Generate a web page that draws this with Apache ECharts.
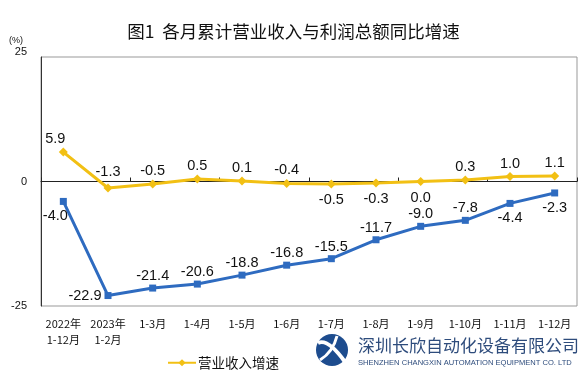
<!DOCTYPE html>
<html><head><meta charset="utf-8">
<script src="https://cdn.jsdelivr.net/npm/echarts@6/dist/echarts.min.js"></script>
<style>html,body{margin:0;padding:0;background:#fff}#c{width:587px;height:374px}</style>
</head><body><div id="c"></div>
<script>
var categories = ['2022年\n1-12月','2023年\n1-2月','1-3月','1-4月','1-5月','1-6月','1-7月','1-8月','1-9月','1-10月','1-11月','1-12月'];
var revenueGrowth = [5.9, -1.3, -0.5, 0.5, 0.1, -0.4, -0.5, -0.3, 0.0, 0.3, 1.0, 1.1];
var profitGrowth = [-4.0, -22.9, -21.4, -20.6, -18.8, -16.8, -15.5, -11.7, -9.0, -7.8, -4.4, -2.3];
var yTicks = [-25, 0, 25];
var revenueLabelPos = ['top','top','top','top','top','top','bottom','bottom','bottom','top','top','top'];
var profitLabelPos = ['bottom','left','top','top','top','top','top','top','top','top','bottom','bottom'];

var labelFont = {fontFamily:'Liberation Sans, Arial, sans-serif', fontSize:14.5, color:'#111'};
function mk(vals, pos, extra){
  return vals.map(function(v,i){
    var lab = Object.assign({show:true, position:pos[i], distance:(pos[i]==='bottom'?4:1), formatter: v.toFixed(1)}, labelFont);
    if (extra && extra[i]) Object.assign(lab, extra[i]);
    return {value:v, label:lab};
  });
}
var chart = echarts.init(document.getElementById('c'));
chart.setOption({
  animation:false,
  title:{text:'图1  各月累计营业收入与利润总额同比增速', left:'center', top:18,
    textStyle:{fontFamily:'Noto Sans CJK SC', fontSize:17.5, fontWeight:'normal', color:'#111'}},
  grid:{left:41, right:10, top:57, bottom:68, show:true, borderColor:'#999', borderWidth:1},
  legend:{data:['营业收入增速'], left:162, top:351, itemWidth:28, itemHeight:9, itemGap:4,
    textStyle:{fontFamily:'Noto Sans CJK SC', fontSize:13.5, color:'#111', padding:[0,0,0,-3]}},
  xAxis:[{type:'category', data:categories, boundaryGap:true, position:'bottom',
      axisLine:{onZero:true, lineStyle:{color:'#222', width:1}},
      axisTick:{show:true, inside:true, length:4, lineStyle:{color:'#222'}},
      axisLabel:{show:false}},
    {type:'category', data:categories, boundaryGap:true, position:'bottom',
      axisLine:{show:false, onZero:false}, axisTick:{show:false},
      axisLabel:{show:true, interval:0, margin:10, lineHeight:16,
        fontFamily:'Noto Sans CJK SC', fontSize:11, color:'#111'}}],
  yAxis:{type:'value', min:-25, max:25, interval:25,
    axisLine:{show:true, lineStyle:{color:'#333'}}, axisTick:{show:false}, splitLine:{show:false},
    axisLabel:{fontFamily:'Liberation Sans, Arial', fontSize:11, color:'#111', margin:14,
      formatter:function(v){ if (yTicks.indexOf(v)<0) return ''; return v===25 ? '{up|25}' : String(v);},
      rich:{up:{fontFamily:'Liberation Sans, Arial', fontSize:11, color:'#111', padding:[0,0,10,0]}}}},
  graphic:[
    {type:'text', left:9, top:36, style:{text:'(%)', font:'9px Liberation Sans', fill:'#111'}},
    {type:'circle', shape:{cx:332, cy:350, r:16}, style:{fill:'#1d4c8e'}},
    {type:'bezierCurve', shape:{x1:318, y1:343, cpx1:328, cpy1:338, x2:345, y2:362}, style:{stroke:'#fff', lineWidth:4, fill:null}},
    {type:'bezierCurve', shape:{x1:337, y1:336, cpx1:333, cpy1:352, x2:320, y2:360}, style:{stroke:'#fff', lineWidth:3, fill:null}},
    {type:'text', left:358, top:337, style:{text:'深圳长欣自动化设备有限公司', font:'17px Noto Sans CJK SC', fill:'#2e4c7c'}},
    {type:'text', x:358, y:360, scaleX:1.08, style:{text:'SHENZHEN CHANGXIN AUTOMATION EQUIPMENT CO. LTD', font:'7px Liberation Sans', fill:'#2e4c7c'}}
  ],
  series:[
    {name:'营业收入增速', type:'line', data:mk(revenueGrowth, revenueLabelPos, {0:{offset:[-8,0]}, 1:{distance:4}}),
      symbol:'diamond', symbolSize:9, lineStyle:{color:'#F2C014', width:3},
      itemStyle:{color:'#F2C014'}},
    {name:'利润总额增速', type:'line', data:mk(profitGrowth, profitLabelPos, {0:{offset:[-8,0]}, 1:{distance:3}}),
      symbol:'rect', symbolSize:7, lineStyle:{color:'#2E6BC0', width:3},
      itemStyle:{color:'#2E6BC0'}}
  ]
});
</script></body></html>
